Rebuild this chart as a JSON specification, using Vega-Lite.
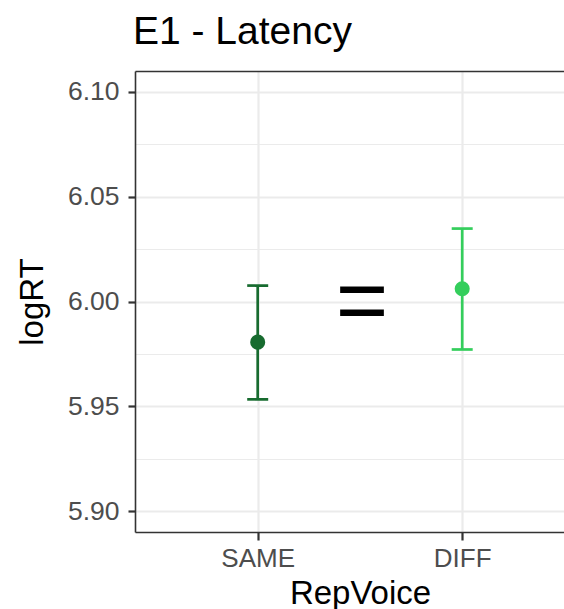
{
  "$schema": "https://vega.github.io/schema/vega-lite/v6.json",
  "autosize": "none",
  "padding": {"left": 135, "top": 71, "right": 0, "bottom": 77},
  "width": 429,
  "height": 461,
  "background": "white",
  "config": {
    "font": "Liberation Sans",
    "view": {"stroke": null}
  },
  "title": {
    "text": "E1 - Latency",
    "fontSize": 39,
    "fontWeight": "normal",
    "color": "black",
    "anchor": "start",
    "frame": "group",
    "baseline": "alphabetic",
    "offset": -12,
    "dx": -2
  },
  "datasets": {
    "means": [
      {"RepVoice": "SAME", "pos": 1, "logRT": 5.9806, "lo": 5.9533, "hi": 6.0076},
      {"RepVoice": "DIFF", "pos": 2, "logRT": 6.0061, "lo": 5.9771, "hi": 6.0348}
    ],
    "note": [
      {"pos": 1.51, "logRT": 5.999, "label": "="}
    ]
  },
  "resolve": {"axis": {"x": "independent", "y": "independent"}},
  "layer": [
    {
      "data": {"name": "means"},
      "mark": {"type": "point", "opacity": 0},
      "encoding": {
        "x": {
          "field": "pos", "type": "quantitative",
          "scale": {"domain": [0.4, 2.4978], "nice": false, "zero": false},
          "axis": {"orient": "top", "title": null, "labels": false, "ticks": false, "grid": false, "domain": true, "domainColor": "#333333", "domainWidth": 1.6}
        },
        "y": {
          "field": "logRT", "type": "quantitative",
          "scale": {"domain": [5.89, 6.11], "nice": false, "zero": false},
          "axis": {"orient": "right", "title": null, "labels": false, "ticks": false, "domain": false, "grid": true, "gridColor": "#ebebeb", "gridWidth": 1.1, "values": [5.925, 5.975, 6.025, 6.075]}
        }
      }
    },
    {
      "data": {"name": "means"},
      "mark": {"type": "rule", "strokeWidth": 2.7},
      "encoding": {
        "x": {
          "field": "pos", "type": "quantitative",
          "axis": {
            "orient": "bottom",
            "title": "RepVoice",
            "titleFontSize": 33,
            "titleFontWeight": "normal",
            "titleColor": "black",
            "titlePadding": 6,
            "titleX": 225,
            "values": [1, 2],
            "labelExpr": "datum.value == 1 ? 'SAME' : 'DIFF'",
            "labelFontSize": 26,
            "labelColor": "#4d4d4d",
            "labelPadding": 5,
            "tickSize": 8,
            "tickWidth": 2.2,
            "tickColor": "#333333",
            "domainColor": "#333333",
            "domainWidth": 1.6,
            "grid": true,
            "gridColor": "#ebebeb",
            "gridWidth": 2.2
          }
        },
        "y": {
          "field": "lo", "type": "quantitative",
          "axis": {
            "orient": "left",
            "title": "logRT",
            "titleFontSize": 33,
            "titleFontWeight": "normal",
            "titleColor": "black",
            "titlePadding": 18,
            "values": [5.9, 5.95, 6.0, 6.05, 6.1],
            "format": ".2f",
            "labelFontSize": 26.5,
            "labelColor": "#4d4d4d",
            "labelPadding": 9,
            "tickSize": 7,
            "tickWidth": 2.2,
            "tickColor": "#333333",
            "domainColor": "#333333",
            "domainWidth": 1.6,
            "grid": true,
            "gridColor": "#ebebeb",
            "gridWidth": 2.2
          }
        },
        "y2": {"field": "hi"},
        "color": {
          "field": "RepVoice", "type": "nominal",
          "scale": {"domain": ["SAME", "DIFF"], "range": ["#176b2f", "#34ce5c"]},
          "legend": null
        }
      }
    },
    {
      "data": {"name": "means"},
      "mark": {"type": "tick", "orient": "horizontal", "size": 21, "thickness": 2.7, "opacity": 1},
      "encoding": {
        "x": {"field": "pos", "type": "quantitative", "axis": null},
        "y": {"field": "lo", "type": "quantitative", "axis": null},
        "color": {"field": "RepVoice", "type": "nominal", "legend": null}
      }
    },
    {
      "data": {"name": "means"},
      "mark": {"type": "tick", "orient": "horizontal", "size": 21, "thickness": 2.7, "opacity": 1},
      "encoding": {
        "x": {"field": "pos", "type": "quantitative", "axis": null},
        "y": {"field": "hi", "type": "quantitative", "axis": null},
        "color": {"field": "RepVoice", "type": "nominal", "legend": null}
      }
    },
    {
      "data": {"name": "means"},
      "mark": {"type": "point", "filled": true, "opacity": 1, "size": 227},
      "encoding": {
        "x": {"field": "pos", "type": "quantitative", "axis": null},
        "y": {"field": "logRT", "type": "quantitative", "axis": null},
        "color": {"field": "RepVoice", "type": "nominal", "legend": null}
      }
    },
    {
      "data": {"name": "note"},
      "mark": {"type": "text", "fontSize": 90, "color": "black", "align": "center", "baseline": "middle"},
      "encoding": {
        "x": {"field": "pos", "type": "quantitative", "axis": null},
        "y": {"field": "logRT", "type": "quantitative", "axis": null},
        "text": {"field": "label"}
      }
    }
  ]
}
